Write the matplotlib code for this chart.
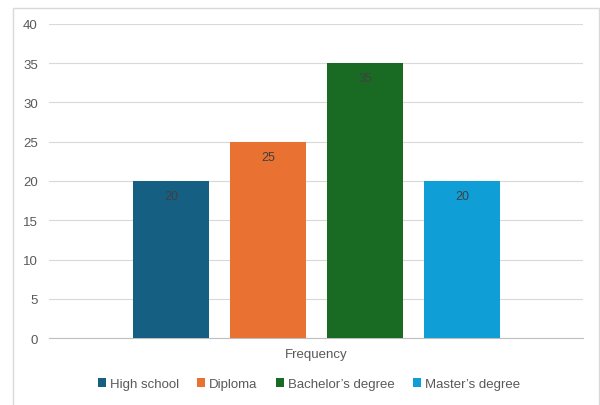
import matplotlib.pyplot as plt
from matplotlib.patches import Rectangle

# education level frequencies
series = ['High school', 'Diploma', "Bachelor\u2019s degree", "Master\u2019s degree"]
values = [20, 25, 35, 20]
colors = ['#156082', '#E97132', '#196B24', '#0F9ED5']
category = 'Frequency'

W, H = 600, 406
fig = plt.figure(figsize=(6.0, 4.06), dpi=100)
plt.rcParams['font.family'] = ['Liberation Sans', 'DejaVu Sans']

# chart border
fig.patches.append(Rectangle((13 / W, -0.01), (599 - 13) / W, 1 - 9 / H + 0.01,
                             transform=fig.transFigure, fill=False,
                             edgecolor='#d9d9d9', linewidth=1.0))

left, right, top, bottom = 49, 583, 25, 339
ax = fig.add_axes([left / W, 1 - bottom / H, (right - left) / W, (bottom - top) / H])

centers = [0.2285, 0.410, 0.592, 0.774]
width = 0.1423
for x, v, c, s in zip(centers, values, colors, series):
    ax.bar(x, v, width=width, color=c, label=s, zorder=3)
    ax.text(x, v - 1.9, str(v), ha='center', va='center', fontsize=9,
            color='#404040', zorder=4)

ax.set_xlim(0, 1)
ax.set_ylim(0, 40)
ax.set_yticks(range(0, 41, 5))
ax.set_xticks([])
ax.grid(axis='y', color='#d9d9d9', linewidth=0.8, zorder=0)
for sp in ['top', 'right', 'left']:
    ax.spines[sp].set_visible(False)
ax.spines['bottom'].set_color('#bfbfbf')
ax.spines['bottom'].set_linewidth(0.8)
ax.tick_params(axis='y', length=0, labelsize=9.5, labelcolor='#595959', pad=8)

fig.text(316 / W, 1 - 355 / H, category, ha='center', va='center',
         fontsize=9.5, color='#595959')

leg = fig.legend(loc='center', bbox_to_anchor=(309 / W, 1 - 385 / H), ncol=4,
                 frameon=False, fontsize=9.5, handlelength=0.6, handleheight=0.6,
                 handletextpad=0.3, columnspacing=1.4)
for t in leg.get_texts():
    t.set_color('#595959')

fig.savefig('out.png', dpi=100)
